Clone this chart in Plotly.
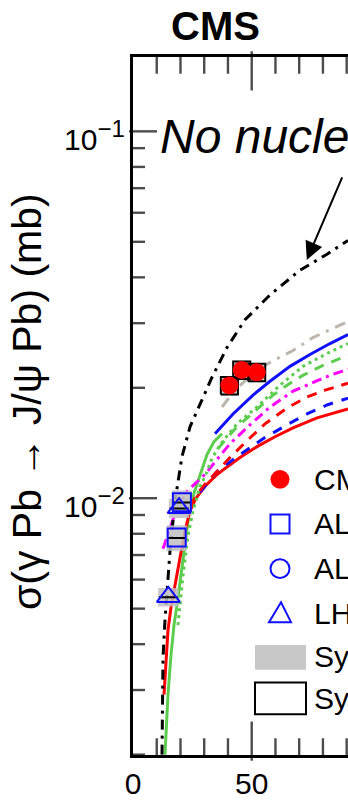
import math
import plotly.graph_objects as go

FONT = "Liberation Sans, Arial, Helvetica, sans-serif"

# ---------------- data (W in GeV, sigma in mb) ----------------
# Impulse approximation ("No nuclear effects")
ia_w = [12.22, 12.64, 13.48, 14.32, 15.59, 17.69, 20.64, 24.01, 28.22, 33.28, 39.6, 47.18, 57.71, 70.35, 81.72, 90.56]
ia_s = [0.0020, 0.003671, 0.004652, 0.005606, 0.00719, 0.009815, 0.012988, 0.01565, 0.017955, 0.021364,
        0.025753, 0.030654, 0.035826, 0.041838, 0.046238, 0.05043]
# gray dash-dot model
gr_w = [37.49, 42.96, 49.28, 57.71, 67.40, 75.82, 82.98, 90.56]
gr_s = [0.01773, 0.0197, 0.0215, 0.02346, 0.02527, 0.02741, 0.0288, 0.03028]
# blue solid model
bs_w = [34.54, 42.12, 50.55, 57.71, 66.13, 74.56, 82.98, 90.56]
bs_s = [0.01499, 0.01697, 0.0191, 0.02084, 0.02288, 0.02465, 0.0264, 0.02792]
# green dotted model
gdot_w = [18.96, 21.06, 23.17, 25.27, 28.22, 30.33, 33.28, 36.65, 43.81, 52.23, 61.92, 71.61, 81.72, 90.56]
gdot_s = [0.004508, 0.006155, 0.007895, 0.009224, 0.010775, 0.011468, 0.012828, 0.013994, 0.01595,
          0.017728, 0.020325, 0.02288, 0.0248, 0.0264]
# green dashed model
gda_w = [35.80, 42.97, 51.39, 58.97, 64.87, 71.61, 80.03, 90.56]
gda_s = [0.01365, 0.01546, 0.01729, 0.0191, 0.02033, 0.02163, 0.02302, 0.0245]
# magenta dash-dot model
mg_w = [12.64, 15.59, 18.53, 22.75, 26.96, 30.33, 35.38, 40.86, 49.28, 57.71, 67.40, 75.82, 82.98, 90.56]
mg_s = [0.007279, 0.008296, 0.009397, 0.010445, 0.011115, 0.011612, 0.012748, 0.014082, 0.015849,
        0.017728, 0.01958, 0.02071, 0.02163, 0.02246]
# red dashed model
rd_w = [24.01, 26.96, 30.33, 34.54, 40.86, 47.18, 55.60, 64.87, 73.29, 80.88, 90.56]
rd_s = [0.009514, 0.010252, 0.01091, 0.011685, 0.012908, 0.01417, 0.01595, 0.01762, 0.01887, 0.0197, 0.02058]
# blue dashed model
bd_w = [28.22, 35.38, 45.07, 54.76, 64.87, 73.29, 81.72, 90.56]
bd_s = [0.01038, 0.011831, 0.01315, 0.014525, 0.015849, 0.01697, 0.017955, 0.01875]
# red solid model
rs_w = [13.06, 13.90, 14.74, 16.01, 17.69, 19.80, 21.90, 24.01, 26.54, 30.33, 34.54, 38.75, 45.07, 52.23,
        59.81, 67.40, 77.51, 90.56]
rs_s = [0.002916, 0.003741, 0.00437, 0.005043, 0.005856, 0.006885, 0.008143, 0.009224, 0.0100, 0.010775,
        0.011468, 0.012054, 0.012908, 0.013821, 0.014706, 0.015553, 0.016556, 0.017507]
# green solid model
gs_w = [13.48, 14.74, 16.01, 17.27, 18.53, 19.80, 21.06, 22.33, 23.59, 25.70, 28.22, 31.17, 34.12, 37.49]
gs_s = [0.0020, 0.002916, 0.003741, 0.004508, 0.005105, 0.005856, 0.006757, 0.007895, 0.009052, 0.010316,
        0.011612, 0.01315, 0.014259, 0.01499]

# measurements
cms_w = [40.6, 45.8, 52.1]
cms_s = [0.02029, 0.02236, 0.02204]
cms_gray_rel = [0.061, 0.061, 0.061]
cms_box_rel = [0.055, 0.055, 0.055]
alice_w = [20.6, 18.4]
alice_s = [0.00975, 0.00781]
lhcb_w = [19.4, 14.9]
lhcb_s = [0.0094, 0.00538]
alice_gray_rel = [0.077, 0.08]
lhcb_gray_rel = [0.06, 0.058]
box_halfw_cms = 3.9
box_halfw_fwd = 4.3

legend_labels = ["CMS", "ALICE", "ALICE", "LHCb", "Syst. uncertainties", "Syst. (theory)"]

# axis ticks
x_major = [0, 50]
x_major_text = ["0", "50"]
x_minor = [10, 20, 30, 40, 60, 70, 80, 90]
y_major = [0.01, 0.1]
y_major_exp = ["−2", "−1"]
y_minor = [0.002, 0.003, 0.004, 0.005, 0.006, 0.007, 0.008, 0.009,
           0.02, 0.03, 0.04, 0.05, 0.06, 0.07, 0.08, 0.09]

X_RANGE = [0, 90.56]
Y_RANGE_LOG = [-2.7, -0.7973]

# plot-area geometry (pixels)
PL, PR, PT, PB = 133, 348, 57, 761
W_PX, H_PX = PR - PL, PB - PT
X_PER_PX = (X_RANGE[1] - X_RANGE[0]) / W_PX
DEC_PER_PX = (Y_RANGE_LOG[1] - Y_RANGE_LOG[0]) / H_PX


def px(xp):
    return (xp - PL) / W_PX


def py(yp):
    return (PB - yp) / H_PX


def yfrac(v):
    return (math.log10(v) - Y_RANGE_LOG[0]) / (Y_RANGE_LOG[1] - Y_RANGE_LOG[0])


fig = go.Figure()


def curve(w, s, color, dash, width=3):
    fig.add_trace(go.Scatter(x=w, y=s, mode="lines", line=dict(color=color, width=width, dash=dash),
                             hoverinfo="skip"))


GREEN = "#5ccd4e"
BLUE = "#1010ff"
curve(gs_w, gs_s, GREEN, "solid")
curve(rs_w, rs_s, "#ff0000", "solid")
curve(bd_w, bd_s, BLUE, "10px,9px")
curve(rd_w, rd_s, "#ff0000", "10px,8px")
curve(mg_w, mg_s, "#ff00ff", "10px,5px,3px,5px")
curve(gda_w, gda_s, GREEN, "10px,8px")
curve(gdot_w, gdot_s, GREEN, "3px,4px")
curve(bs_w, bs_s, BLUE, "solid")
curve(gr_w, gr_s, "#bdb6ae", "11px,7px,3px,7px")
curve(ia_w, ia_s, "#000000", "10px,6px,3px,6px")


def box(x, y, dx, rel, fill=None, line=None):
    xs = [x - dx, x + dx, x + dx, x - dx, x - dx]
    ys = [y * (1 - rel), y * (1 - rel), y * (1 + rel), y * (1 + rel), y * (1 - rel)]
    if fill:
        fig.add_trace(go.Scatter(x=xs, y=ys, mode="lines", fill="toself", fillcolor=fill,
                                 line=dict(width=0, color=fill), hoverinfo="skip"))
    else:
        fig.add_trace(go.Scatter(x=xs, y=ys, mode="lines", line=dict(width=2, color=line),
                                 hoverinfo="skip"))


GRAYFILL = "rgba(192,192,192,0.85)"
for w, s, r in zip(alice_w, alice_s, alice_gray_rel):
    box(w, s, box_halfw_fwd, r, fill=GRAYFILL)
for w, s, r in zip(lhcb_w, lhcb_s, lhcb_gray_rel):
    box(w, s, box_halfw_fwd, r, fill=GRAYFILL)
for w, s, r in zip(cms_w, cms_s, cms_gray_rel):
    box(w, s, box_halfw_cms, r, fill=GRAYFILL)
for w, s, r in zip(cms_w, cms_s, cms_box_rel):
    box(w, s, box_halfw_cms - 0.3, r, line="#000000")
for w, s in zip(alice_w + lhcb_w, alice_s + lhcb_s):
    box(w, s, box_halfw_fwd - 0.3, 0.002, line="#000000")

fig.add_trace(go.Scatter(x=cms_w, y=cms_s, mode="markers",
                         marker=dict(symbol="circle", size=18, color="#ff0000", line=dict(width=0))))
fig.add_trace(go.Scatter(x=alice_w, y=alice_s, mode="markers",
                         marker=dict(symbol="square-open", size=18, color=BLUE, line=dict(width=2))))
fig.add_trace(go.Scatter(x=lhcb_w, y=lhcb_s, mode="markers",
                         marker=dict(symbol="triangle-up-open", size=20, color=BLUE, line=dict(width=2))))

# ---------------- inside tick marks, drawn as line markers on the axes' own scales ----------------
y_lo, y_hi = 10 ** Y_RANGE_LOG[0], 10 ** Y_RANGE_LOG[1]
xt_x, xt_y, xt_len = [], [], []
for vals, ln in ((x_major, 28), (x_minor, 14)):
    for v in vals:
        if X_RANGE[0] < v < X_RANGE[1]:
            off = 10 ** (ln / 2 * DEC_PER_PX)
            xt_x += [v, v]
            xt_y += [y_lo * off, y_hi / off]
            xt_len += [ln, ln]
fig.add_trace(go.Scatter(x=xt_x, y=xt_y, mode="markers", cliponaxis=False, hoverinfo="skip",
                         marker=dict(symbol="line-ns-open", size=xt_len, color="black",
                                     line=dict(width=2.4, color="black"))))
yt_x, yt_y, yt_len = [], [], []
for vals, ln in ((y_major, 20), (y_minor, 10)):
    for v in vals:
        yt_x.append(X_RANGE[0] + ln / 2 * X_PER_PX)
        yt_y.append(v)
        yt_len.append(ln)
fig.add_trace(go.Scatter(x=yt_x, y=yt_y, mode="markers", cliponaxis=False, hoverinfo="skip",
                         marker=dict(symbol="line-ew-open", size=yt_len, color="black",
                                     line=dict(width=2.4, color="black"))))

# ---------------- hand-made legend ----------------
LX = 280
rows = [483, 528, 573, 618, 662, 704]
r = 9.5
fig.add_shape(type="circle", xref="paper", yref="paper", x0=px(LX - r), x1=px(LX + r),
              y0=py(rows[0] + r), y1=py(rows[0] - r), fillcolor="#ff0000", line=dict(width=0))
fig.add_shape(type="rect", xref="paper", yref="paper", x0=px(LX - r), x1=px(LX + r),
              y0=py(rows[1] + r), y1=py(rows[1] - r), line=dict(width=2, color=BLUE))
fig.add_shape(type="circle", xref="paper", yref="paper", x0=px(LX - r), x1=px(LX + r),
              y0=py(rows[2] + r), y1=py(rows[2] - r), line=dict(width=2, color=BLUE))
tri = "M {:.4f},{:.4f} L {:.4f},{:.4f} L {:.4f},{:.4f} Z".format(
    px(LX - 11), py(rows[3] + 9), px(LX + 11), py(rows[3] + 9), px(LX + 1), py(rows[3] - 11))
fig.add_shape(type="path", xref="paper", yref="paper", path=tri, line=dict(width=2, color=BLUE))
fig.add_shape(type="rect", xref="paper", yref="paper", x0=px(255), x1=px(306), y0=py(675), y1=py(650),
              fillcolor="#c8c8c8", line=dict(width=0))
fig.add_shape(type="rect", xref="paper", yref="paper", x0=px(255), x1=px(306), y0=py(720), y1=py(688),
              fillcolor="white", line=dict(width=2, color="black"))
for i, lab in enumerate(legend_labels):
    fig.add_annotation(text=lab, xref="paper", yref="paper", x=px(312), y=py(rows[i]), xanchor="left",
                       yanchor="middle", showarrow=False, font=dict(family=FONT, size=30, color="black"))

# ---------------- y tick labels ----------------
for v, e in zip(y_major, y_major_exp):
    fig.add_annotation(text='10<sup><span style="font-size:24px">' + e + '</span></sup>',
                       xref="paper", yref="paper", x=px(127), y=yfrac(v),
                       xanchor="right", yanchor="middle", yshift=-4, showarrow=False,
                       font=dict(family=FONT, size=30, color="black"))

# ---------------- texts ----------------
fig.add_annotation(text="<b>CMS</b>", xref="paper", yref="paper", x=px(215), y=py(26), xanchor="center",
                   yanchor="middle", showarrow=False, font=dict(family=FONT, size=40, color="black"))
fig.add_annotation(text="<i>No nuclear effects</i>", xref="paper", yref="paper", x=px(157.5), y=py(137.5),
                   xanchor="left", yanchor="middle", showarrow=False,
                   font=dict(family=FONT, size=48, color="black"))
fig.add_annotation(text="σ(γ Pb → J/ψ Pb) (mb)", xref="paper", yref="paper", x=px(27), y=py(405),
                   xanchor="center", yanchor="middle", textangle=-90, showarrow=False,
                   font=dict(family=FONT, size=41, color="black"))
fig.add_annotation(text="", x=73.2, y=-1.3505, xref="x", yref="y", ax=36, ay=-84, showarrow=True,
                   arrowhead=2, arrowsize=1.8, arrowwidth=2, arrowcolor="black")

fig.update_layout(
    width=348, height=800, margin=dict(l=PL, r=0, t=PT, b=800 - PB),
    paper_bgcolor="white", plot_bgcolor="white", showlegend=False,
    xaxis=dict(range=X_RANGE, showgrid=False, zeroline=False, showline=True, linewidth=3,
               linecolor="black", mirror=True, ticks="", tickmode="array", tickvals=x_major,
               ticktext=x_major_text, tickfont=dict(family=FONT, size=30, color="black")),
    yaxis=dict(type="log", range=Y_RANGE_LOG, showgrid=False, zeroline=False, showline=True,
               linewidth=3, linecolor="black", mirror=False, ticks="", showticklabels=False),
)

fig.write_html("out.html")
